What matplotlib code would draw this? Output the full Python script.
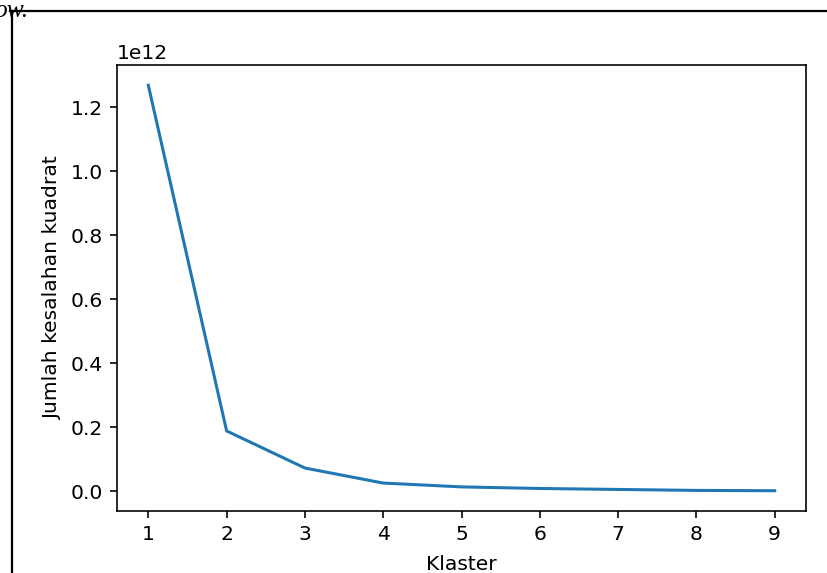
"""Elbow plot: jumlah kesalahan kuadrat vs jumlah klaster."""
import matplotlib
matplotlib.use("Agg")
import matplotlib.pyplot as plt
from matplotlib.lines import Line2D

klaster = [1, 2, 3, 4, 5, 6, 7, 8, 9]
sse = [1.269e12, 0.188e12, 0.072e12, 0.025e12, 0.013e12,
       0.008e12, 0.005e12, 0.002e12, 0.001e12]

DPI = 146
fig = plt.figure(figsize=(827 / DPI, 573 / DPI), dpi=DPI)
ax = fig.add_axes([117 / 827, 1 - 511 / 573, (806 - 117) / 827, (511 - 65) / 573])

ax.plot(klaster, sse, color="#1f77b4")
ax.set_xlabel("Klaster", labelpad=5.5)
ax.set_ylabel("Jumlah kesalahan kuadrat")

# document frame around the embedded figure
fig.add_artist(Line2D([10 / 827, 1], [1 - 11 / 573, 1 - 11 / 573],
                      transform=fig.transFigure, color="black", lw=1.1))
fig.add_artist(Line2D([11.5 / 827, 11.5 / 827], [0, 1 - 11 / 573],
                      transform=fig.transFigure, color="black", lw=1.1))
fig.text(-6 / 827, 1 - 17 / 573, "ow.", family="Liberation Serif",
         style="italic", fontsize=12.5, ha="left", va="baseline")

fig.savefig("out.png", dpi=DPI)
